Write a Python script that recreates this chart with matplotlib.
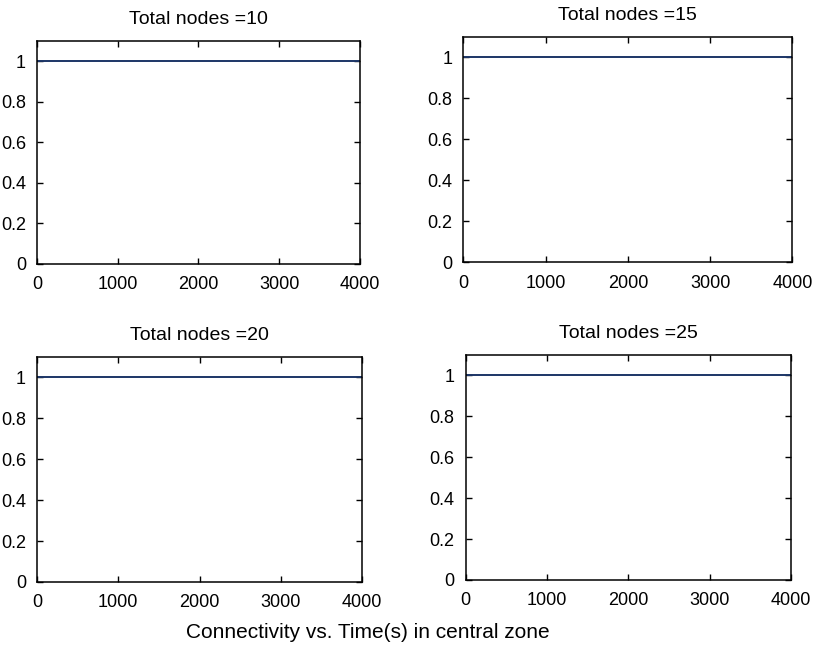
import matplotlib.pyplot as plt
import numpy as np

plt.rcParams['font.family'] = ['Liberation Sans', 'DejaVu Sans']

# data
node_counts = [10, 15, 20, 25]
time_s = [0, 500, 1000, 1500, 2000, 2500, 3000, 3500, 4000]
connectivity = {
    10: [1, 1, 1, 1, 1, 1, 1, 1, 1],
    15: [1, 1, 1, 1, 1, 1, 1, 1, 1],
    20: [1, 1, 1, 1, 1, 1, 1, 1, 1],
    25: [1, 1, 1, 1, 1, 1, 1, 1, 1],
}

fig = plt.figure(figsize=(8.17, 6.47), dpi=100)

# axes placement [left, bottom, width, height]
boxes = [
    [0.0453, 0.592, 0.395, 0.345],
    [0.567, 0.595, 0.403, 0.348],
    [0.0453, 0.1005, 0.398, 0.348],
    [0.570, 0.1036, 0.398, 0.348],
]

for n, box in zip(node_counts, boxes):
    ax = fig.add_axes(box)
    ax.plot(time_s, connectivity[n], color='#1c3566', linewidth=1.4)
    ax.set_xlim(0, 4000)
    ax.set_ylim(0, 1.1)
    ax.set_xticks([0, 1000, 2000, 3000, 4000])
    ax.set_yticks([0, 0.2, 0.4, 0.6, 0.8, 1])
    ax.set_yticklabels(['0', '0.2', '0.4', '0.6', '0.8', '1'])
    ax.tick_params(direction='in', top=True, right=True, labelsize=13,
                   length=4, width=1)
    ax.tick_params(axis='x', pad=9)
    ax.tick_params(axis='y', pad=8)
    for s in ax.spines.values():
        s.set_linewidth(1.1)
    ax.set_title('Total nodes =%d' % n, fontsize=14, pad=12)

fig.text(0.45, 0.023, 'Connectivity vs. Time(s) in central zone',
         ha='center', va='center', fontsize=15)

fig.savefig('out.png', dpi=100)
